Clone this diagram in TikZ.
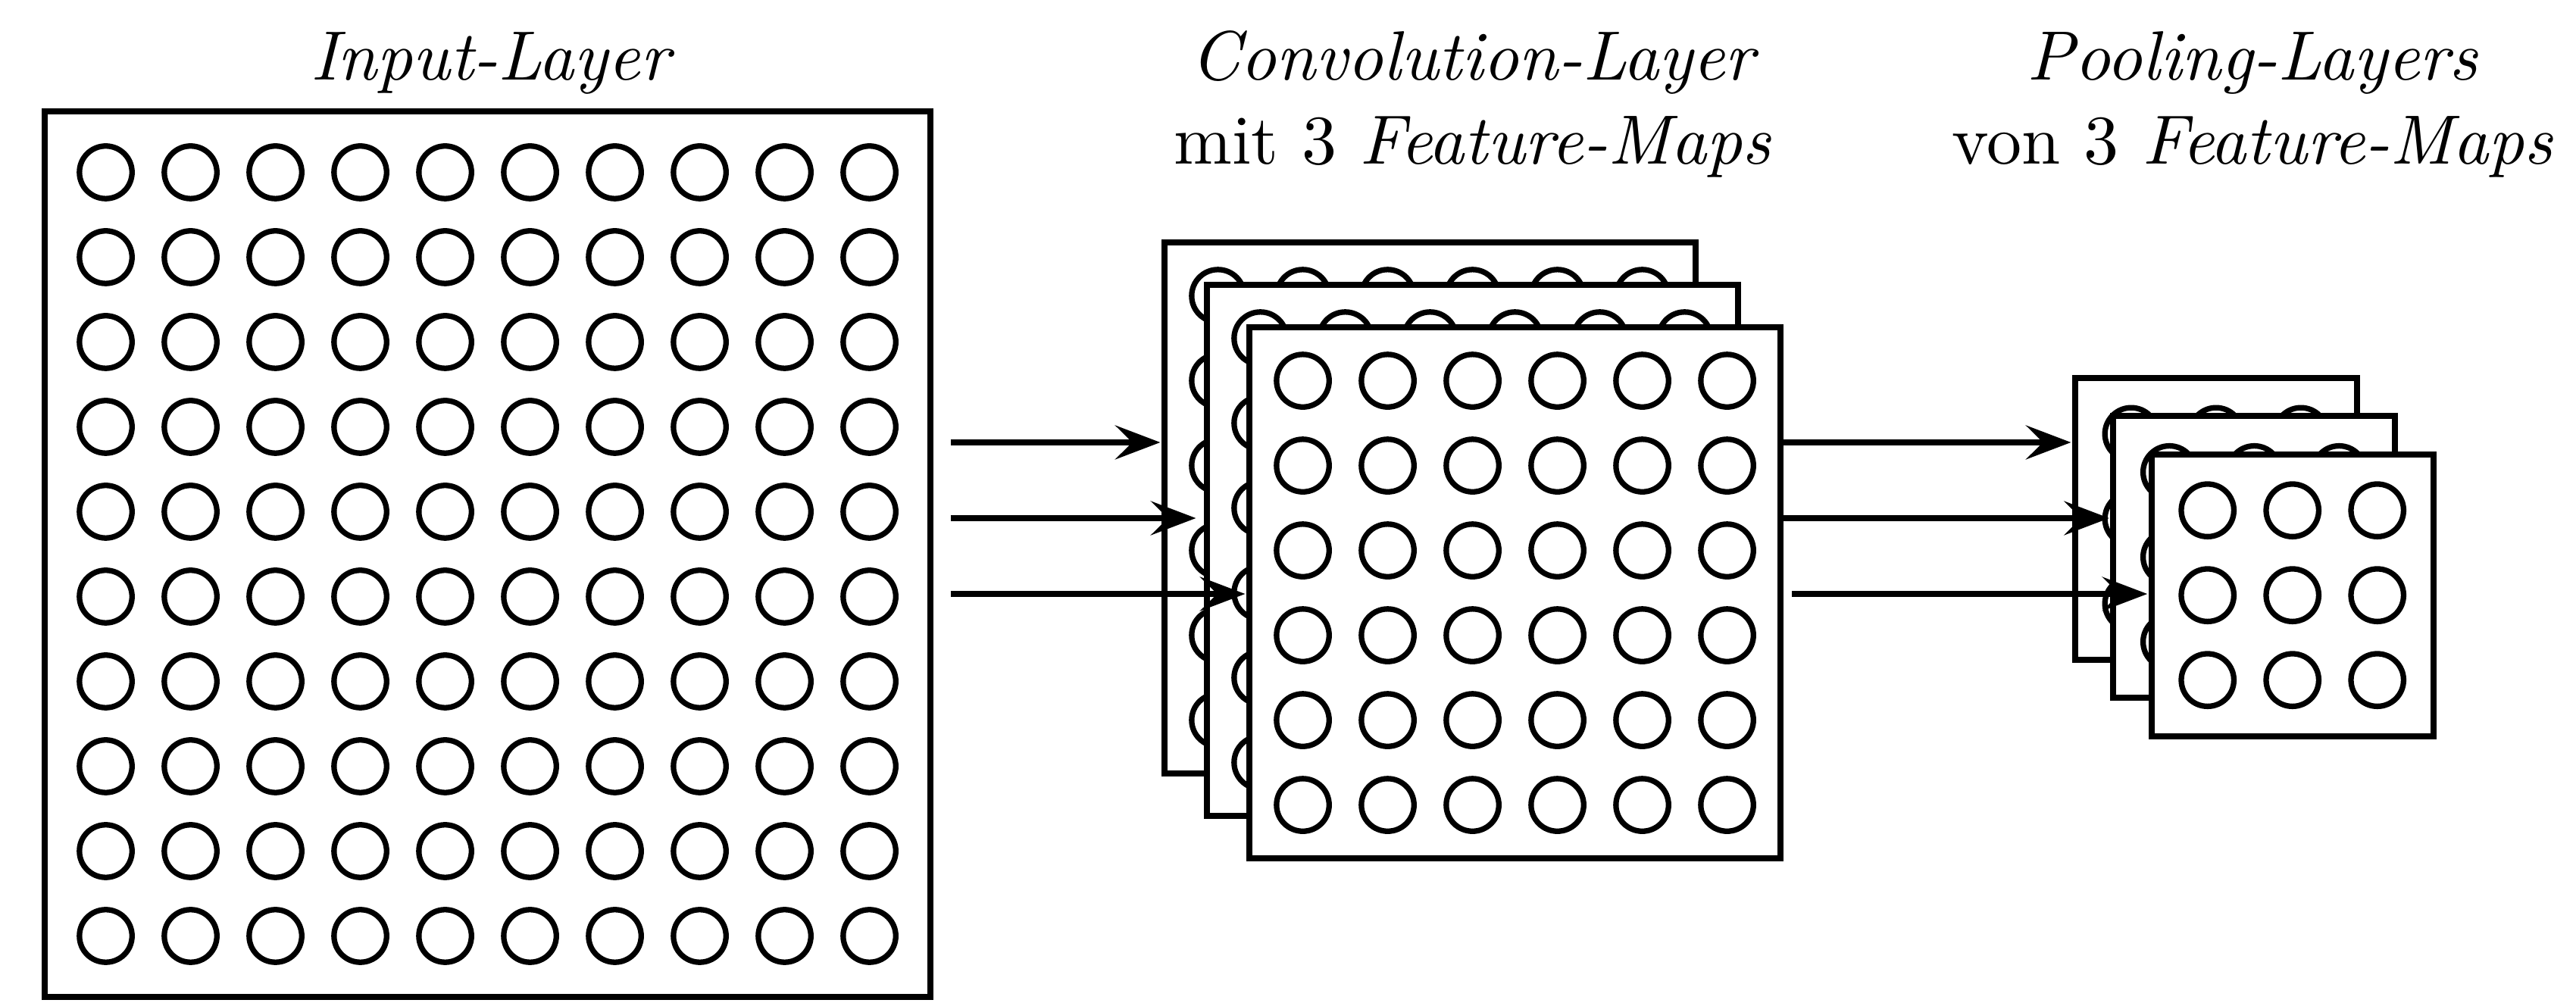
\documentclass[tikz,border=0pt]{standalone}
\usetikzlibrary{arrows.meta}
\begin{document}
\begin{tikzpicture}[
  box/.style={draw, fill=white, line width=2pt, minimum width=#1, minimum height=#1, inner sep=0pt, outer sep=0pt, anchor=north west},
  cell/.style={line width=1.85pt},
  arr/.style={line width=2pt, -{Stealth[length=0.53cm,width=0.4cm,inset=0.2cm]}},
  title/.style={anchor=base, inner sep=0pt, font=\fontsize{10}{12}\selectfont, scale=2.34, transform shape}
]
\useasboundingbox (0,0) rectangle (30.357,-11.8125);

% titles
\node[title] (tin) at (5.777,-0.946) {\itshape Input-Layer};
\node[title] (tc1) at (17.353,-0.946) {\itshape Convolution-Layer};
\node[title] (tc2) at (17.353,-1.9375) {mit 3 \textit{Feature-Maps}};
\node[title] (tp1) at (26.545,-0.946) {\itshape Pooling-Layers};
\node[title] (tp2) at (26.545,-1.9375) {von 3 \textit{Feature-Maps}};

% input layer
\node[box=10.44cm] (inp) at (0.526,-1.311) {};
\foreach \i in {0,...,9}
  \foreach \j in {0,...,9}
    \draw[cell] (1.246+\i,-2.031-\j) circle (0.31);

% convolution layer (3 feature maps)
\foreach \k in {0,1,2} {
  \node[box=6.26cm] (conv\k) at (13.723+0.5*\k,-2.857-0.5*\k) {};
  \foreach \i in {0,...,5}
    \foreach \j in {0,...,5}
      \draw[cell] (14.353+0.5*\k+\i,-3.487-0.5*\k-\j) circle (0.31);
}

% pooling layers
\foreach \k in {0,1,2} {
  \node[box=3.32cm] (pool\k) at (24.455+0.45*\k,-4.455-0.45*\k) {};
  \foreach \i in {0,...,2}
    \foreach \j in {0,...,2}
      \draw[cell] (25.115+0.45*\k+\i,-5.115-0.45*\k-\j) circle (0.31);
}

% arrows input -> convolution
\coordinate (s0) at (11.205,-5.214);
\coordinate (s1) at (11.205,-6.107);
\coordinate (s2) at (11.205,-7.0);
\draw[arr, shorten >=0.05cm] (s0) -- (s0 -| conv0.west);
\draw[arr, shorten >=0.13cm] (s1) -- (s1 -| conv1.west);
\draw[arr, shorten >=0.05cm] (s2) -- (s2 -| conv2.west);

% arrows convolution -> pooling
\coordinate (t0) at (20.983,-5.214);
\coordinate (t1) at (20.983,-6.107);
\coordinate (t2) at (21.116,-7.0);
\draw[arr, shorten >=0.05cm] (t0) -- (t0 -| pool0.west);
\draw[arr, shorten >=0.05cm] (t1) -- (t1 -| pool1.west);
\draw[arr, shorten >=0.05cm] (t2) -- (t2 -| pool2.west);
\end{tikzpicture}
\end{document}
